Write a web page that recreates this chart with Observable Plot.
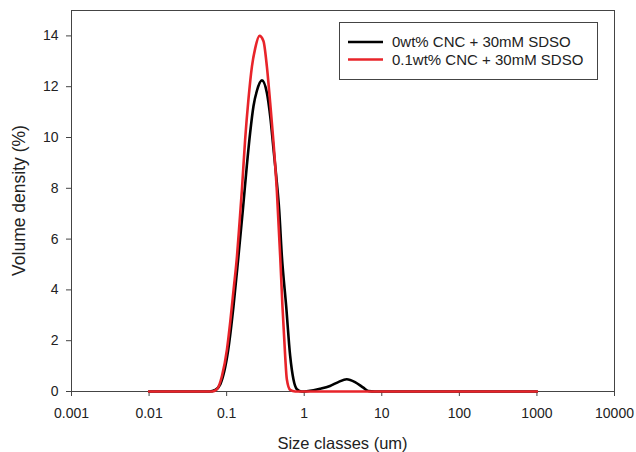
<!DOCTYPE html>
<html>
<head>
<meta charset="utf-8">
<script src="https://cdn.jsdelivr.net/npm/d3@7"></script>
<script src="https://cdn.jsdelivr.net/npm/@observablehq/plot@0.6"></script>
<style>
  html, body { margin: 0; padding: 0; background: #fff; }
  #chart { width: 636px; height: 452px; }
</style>
</head>
<body>
<div id="chart"></div>
<script>
// Series 1: 0wt% CNC + 30mM SDSO (black)
const blackSize = [0.01, 0.06, 0.0713, 0.0827, 0.105, 0.122, 0.142, 0.162, 0.182, 0.201, 0.222, 0.245, 0.285, 0.330, 0.364, 0.402, 0.444, 0.475, 0.515, 0.585, 0.659, 0.726, 0.804, 0.931, 1.13, 1.60, 2.15, 2.75, 3.53, 4.52, 5.78, 6.70, 8.17, 1000];
const blackVol  = [0, 0, 0.06, 0.28, 1.66, 3.3, 5.33, 7.17, 8.88, 10.19, 11.24, 11.83, 12.25, 11.76, 10.85, 9.54, 8.22, 7.17, 5.33, 3.37, 1.40, 0.48, 0.09, 0, 0.02, 0.11, 0.22, 0.37, 0.48, 0.37, 0.15, 0.02, 0, 0];

// Series 2: 0.1wt% CNC + 30mM SDSO (red)
const redSize = [0.01, 0.0647, 0.075, 0.087, 0.101, 0.111, 0.123, 0.136, 0.147, 0.157, 0.173, 0.191, 0.212, 0.233, 0.265, 0.298, 0.330, 0.364, 0.402, 0.444, 0.490, 0.524, 0.568, 0.597, 0.659, 0.764, 1000];
const redVol  = [0, 0, 0.09, 0.61, 1.66, 2.71, 4.02, 5.33, 6.7, 7.9, 9.9, 11.5, 12.8, 13.5, 14.0, 13.8, 12.8, 11.37, 9.80, 7.9, 5.33, 3.37, 1.40, 0.48, 0.06, 0, 0];

const seriesNames = ["0wt% CNC + 30mM SDSO", "0.1wt% CNC + 30mM SDSO"];
const seriesColors = ["#000000", "#e8242a"];

const xTicks = [0.001, 0.01, 0.1, 1, 10, 100, 1000, 10000];
const xTickLabels = ["0.001", "0.01", "0.1", "1", "10", "100", "1000", "10000"];
const yTicks = [0, 2, 4, 6, 8, 10, 12, 14];

const xTitle = "Size classes (um)";
const yTitle = "Volume density (%)";

const blackData = blackSize.map((s, i) => ({size: s, vol: blackVol[i]}));
const redData = redSize.map((s, i) => ({size: s, vol: redVol[i]}));

const W = 636, H = 452;
const mL = 71, mR = 22, mT = 10, mB = 61;
const font = "'Liberation Sans', Arial, sans-serif";

const plot = Plot.plot({
  width: W,
  height: H,
  marginLeft: mL,
  marginRight: mR,
  marginTop: mT,
  marginBottom: mB,
  style: {fontFamily: font, background: "#fff", color: "#222"},
  x: {type: "log", domain: [0.001, 10000]},
  y: {domain: [0, 15]},
  marks: [
    Plot.axisX({ticks: xTicks, tickFormat: (d) => xTickLabels[xTicks.indexOf(d)], tickSize: 5, tickPadding: 12, fontSize: 14, label: null, stroke: "#444"}),
    Plot.axisY({ticks: yTicks, tickSize: 5, tickPadding: 8, fontSize: 14, label: null, stroke: "#444"}),
    Plot.frame({stroke: "#444", strokeWidth: 1}),
    Plot.line(blackData, {x: "size", y: "vol", stroke: seriesColors[0], strokeWidth: 2.6, curve: "monotone-x"}),
    Plot.line(redData, {x: "size", y: "vol", stroke: seriesColors[1], strokeWidth: 2.6, curve: "monotone-x"})
  ]
});

document.getElementById("chart").appendChild(plot);

// Axis titles and legend
const svg = d3.select(plot);
svg.append("text")
  .attr("x", (mL + (W - mR)) / 2)
  .attr("y", 449)
  .attr("text-anchor", "middle")
  .attr("font-family", font)
  .attr("font-size", 16.5)
  .attr("fill", "#222")
  .text(xTitle);
svg.append("text")
  .attr("transform", `translate(25,${(mT + (H - mB)) / 2}) rotate(-90)`)
  .attr("text-anchor", "middle")
  .attr("font-family", font)
  .attr("font-size", 17.5)
  .attr("fill", "#222")
  .text(yTitle);

const lg = svg.append("g");
lg.append("rect")
  .attr("x", 339.5).attr("y", 22.5).attr("width", 258).attr("height", 57)
  .attr("fill", "#fff").attr("stroke", "#444").attr("stroke-width", 1);
const lgY = [42, 59.5];
seriesNames.forEach((name, i) => {
  lg.append("line")
    .attr("x1", 348).attr("x2", 383).attr("y1", lgY[i]).attr("y2", lgY[i])
    .attr("stroke", seriesColors[i]).attr("stroke-width", 2.6);
  lg.append("text")
    .attr("x", 392).attr("y", lgY[i]).attr("dy", "0.36em")
    .attr("text-anchor", "start")
    .attr("font-family", font).attr("font-size", 15).attr("fill", "#222")
    .text(name);
});
</script>
</body>
</html>
